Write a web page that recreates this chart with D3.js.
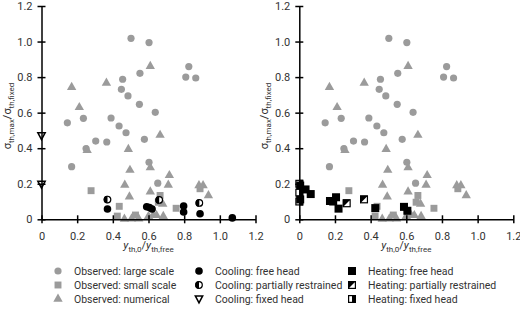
<!DOCTYPE html>
<html>
<head>
<meta charset="utf-8">
<script src="https://cdn.jsdelivr.net/npm/d3@7"></script>
<style>
  body { margin: 0; background: #fff; }
  svg text { font-family: Roboto, "Open Sans", sans-serif; fill: #333; }
</style>
</head>
<body>
<div id="chart"></div>
<script>
// tick values shared by both panels
const ticks = [0, 0.2, 0.4, 0.6, 0.8, 1.0, 1.2];

// observed data (same in both panels), [x, y]
const obsLarge = [[0.502,1.018],[0.603,0.994],[0.826,0.859],[0.809,0.80],[0.865,0.795],[0.552,0.821],
  [0.455,0.788],[0.448,0.731],[0.485,0.694],[0.549,0.647],[0.638,0.602],[0.145,0.543],[0.235,0.568],
  [0.39,0.57],[0.435,0.525],[0.474,0.487],[0.577,0.45],[0.304,0.44],[0.366,0.435],[0.25,0.398],
  [0.169,0.296],[0.603,0.321],[0.652,0.203]];
const obsSmall = [[0.278,0.161],[0.436,0.073],[0.425,0.018],[0.527,0.024],[0.665,0.134],[0.655,0.096],
  [0.755,0.062],[0.889,0.172]];
const obsNum = [[0.169,0.743],[0.212,0.63],[0.364,0.767],[0.61,0.861],[0.665,0.474],[0.487,0.394],
  [0.256,0.388],[0.496,0.277],[0.61,0.291],[0.467,0.193],[0.493,0.127],[0.61,0.155],[0.717,0.247],
  [0.711,0.193],[0.883,0.19],[0.906,0.19],[0.936,0.134],[0.68,0.086],[0.683,0.017],[0.465,0.002],
  [0.505,0.003],[0.545,0.003],[0.60,0.017],[0.627,0.024],[0.645,0.022]];

// cooling (left panel)
const coolFree = [[0.37,0.058],[0.59,0.071],[0.605,0.066],[0.62,0.058],[0.797,0.075],[0.797,0.041],
  [0.889,0.031],[1.07,0.008]];
const coolPartial = [[0.37,0.111],[0.66,0.109],[0.885,0.092]];
const coolFixed = [[0,0.47],[0,0.197]];

// heating (right panel)
const heatFixed = [[0,0.2],[0,0.15],[0,0.1]];
const heatFree = [[0.005,0.19],[0.035,0.168],[0.064,0.142],[0.005,0.112],[0.172,0.103],[0.19,0.100],
  [0.206,0.124],[0.22,0.06],[0.426,0.063],[0.587,0.07],[0.606,0.048]];
const heatPartial = [[0.266,0.09],[0.363,0.112]];

const legendLabels = [
  ["Observed: large scale", "Observed: small scale", "Observed: numerical"],
  ["Cooling: free head", "Cooling: partially restrained", "Cooling: fixed head"],
  ["Heating: free head", "Heating: partially restrained", "Heating: fixed head"]
];

const w = 520, h = 311;
const grey = "#9b9b9b";

const svg = d3.select("#chart").append("svg")
  .attr("width", w).attr("height", h);

const yScale = d3.scaleLinear().domain([0, 1.2]).range([219.3, 6]);
const fmt = v => v === 0 ? "0" : d3.format(".1f")(v);

// marker painters: draw one marker of a kind at the group origin
const sym = (type, size) => d3.symbol().type(type).size(size)();
const markers = {
  large: (g) => g.append("circle").attr("r", 3.6).attr("fill", grey),
  small: (g) => g.append("path").attr("d", sym(d3.symbolSquare, 48)).attr("fill", grey),
  num: (g) => g.append("path").attr("d", sym(d3.symbolTriangle, 38)).attr("fill", grey),
  coolFree: (g) => g.append("circle").attr("r", 3.8).attr("fill", "#000"),
  coolPartial: (g) => {
    g.append("circle").attr("r", 3.3).attr("fill", "#fff").attr("stroke", "#000").attr("stroke-width", 1.2);
    g.append("path").attr("d", "M0,-3.8A3.8,3.8 0 0 0 0,3.8Z").attr("fill", "#000");
  },
  coolFixed: (g) => g.append("path").attr("d", "M-3.6,-3L3.6,-3L0,3.8Z")
    .attr("fill", "#fff").attr("stroke", "#000").attr("stroke-width", 1.6),
  heatFree: (g) => g.append("rect").attr("x", -4).attr("y", -4).attr("width", 8).attr("height", 8).attr("fill", "#000"),
  heatPartial: (g) => {
    g.append("rect").attr("x", -3.4).attr("y", -3.4).attr("width", 6.8).attr("height", 6.8)
      .attr("fill", "#fff").attr("stroke", "#000").attr("stroke-width", 1.2);
    g.append("path").attr("d", "M-4,-4L4,-4L-4,4Z").attr("fill", "#000");
  },
  heatFixed: (g) => {
    g.append("rect").attr("x", -3.4).attr("y", -3.4).attr("width", 6.8).attr("height", 6.8)
      .attr("fill", "#fff").attr("stroke", "#000").attr("stroke-width", 1.2);
    g.append("rect").attr("x", 0).attr("y", -4).attr("width", 4).attr("height", 8).attr("fill", "#000");
  }
};

const plotSeries = (g, xScale, data, kind) => {
  data.forEach(d => {
    const m = g.append("g").attr("transform", `translate(${xScale(d[0])},${yScale(d[1])})`);
    markers[kind](m);
  });
};

// text with subscripts: parts = [[text, isSub, italic]]
const richText = (t, parts) => {
  let down = false;
  parts.forEach(p => {
    const s = t.append("tspan").text(p[0]);
    if (p[1] && !down) { s.attr("dy", 3).style("font-size", "8px"); down = true; }
    else if (p[1]) s.style("font-size", "8px");
    else if (down) { s.attr("dy", -3); down = false; }
    if (p[2]) s.style("font-style", "italic");
  });
};

const axisLabelX = (g, cx) => {
  const t = g.append("text").attr("x", cx).attr("y", 249).attr("text-anchor", "middle")
    .style("font-size", "11px");
  richText(t, [["y", false, true], ["th,0", true], ["/", false], ["y", false, true], ["th,free", true]]);
};

const axisLabelY = (g, x) => {
  const t = g.append("text").attr("transform", `translate(${x},116) rotate(-90)`)
    .attr("text-anchor", "middle").style("font-size", "11px");
  richText(t, [["σ", false], ["th,max", true], ["/σ", false], ["th,fixed", true]]);
};

const drawPanel = (x0, x1, series) => {
  const xScale = d3.scaleLinear().domain([0, 1.2]).range([x0, x1]);
  const g = svg.append("g");

  series.forEach(s => plotSeries(g, xScale, s.data, s.kind));

  const ax = g.append("g").attr("transform", `translate(0,${yScale(0)})`)
    .call(d3.axisBottom(xScale).tickValues(ticks).tickFormat(fmt).tickSizeOuter(0).tickSizeInner(4).tickPadding(9));
  ax.selectAll(".tick line").attr("y1", -4).attr("y2", 4).attr("stroke-width", 1.5);
  ax.select(".domain").attr("stroke-width", 1.5);
  ax.selectAll("text").style("font-size", "11px").attr("fill", "#333")
    .style("font-family", "Roboto, sans-serif");

  const ay = g.append("g").attr("transform", `translate(${x0},0)`)
    .call(d3.axisLeft(yScale).tickValues(ticks).tickFormat(fmt).tickSizeOuter(0).tickSizeInner(4).tickPadding(5));
  ay.selectAll(".tick line").attr("x1", -4).attr("x2", 4).attr("stroke-width", 1.5);
  ay.select(".domain").attr("stroke-width", 1.5);
  ay.selectAll("text").style("font-size", "11px").attr("fill", "#333")
    .style("font-family", "Roboto, sans-serif");

  axisLabelX(g, (x0 + x1) / 2);
  axisLabelY(g, x0 - 31);
};

const observed = [
  {data: obsLarge, kind: "large"},
  {data: obsSmall, kind: "small"},
  {data: obsNum, kind: "num"}
];

drawPanel(41.5, 255.5, observed.concat([
  {data: coolFixed, kind: "coolFixed"},
  {data: coolPartial, kind: "coolPartial"},
  {data: coolFree, kind: "coolFree"}
]));

drawPanel(299.3, 513.3, observed.concat([
  {data: heatFixed, kind: "heatFixed"},
  {data: heatPartial, kind: "heatPartial"},
  {data: heatFree, kind: "heatFree"}
]));

// legend
const legendKinds = [["large", "small", "num"], ["coolFree", "coolPartial", "coolFixed"],
  ["heatFree", "heatPartial", "heatFixed"]];
const colX = [58, 199, 352];
const rowY = [271, 285, 299];
legendKinds.forEach((col, i) => {
  col.forEach((kind, j) => {
    const m = svg.append("g").attr("transform", `translate(${colX[i]},${rowY[j]})`);
    markers[kind](m);
    svg.append("text").attr("x", colX[i] + 16).attr("y", rowY[j] + 4)
      .style("font-size", "10.5px").text(legendLabels[i][j]);
  });
});
</script>
</body>
</html>
